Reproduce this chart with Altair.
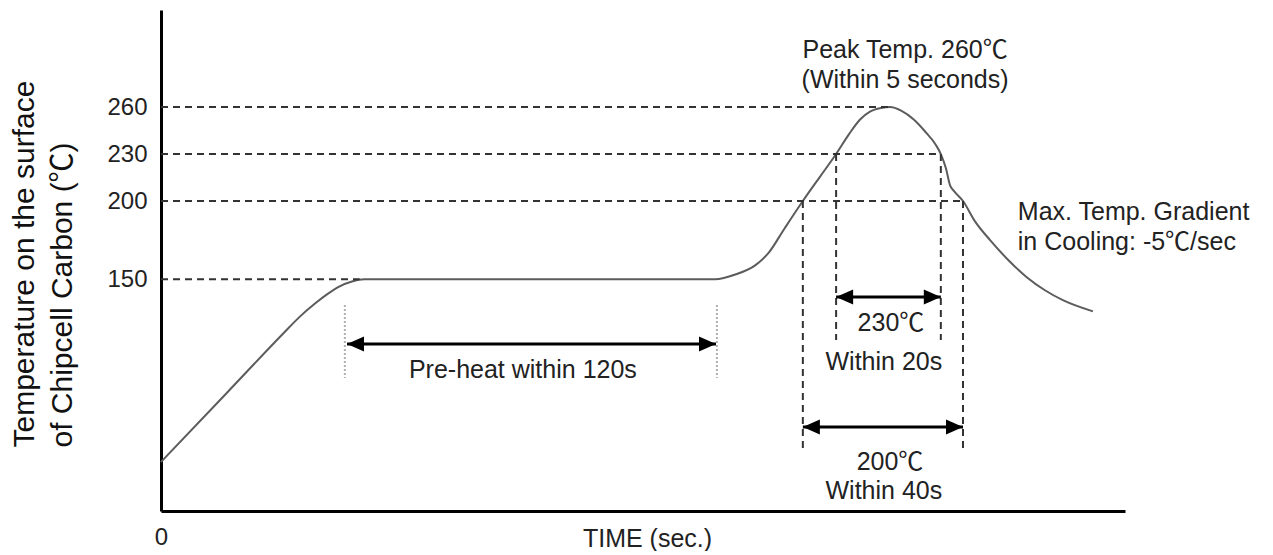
import altair as alt
import pandas as pd

FONT = "Liberation Sans, Arial, Noto Sans CJK JP, sans-serif"

# ---- reflow profile curve (time in s, temperature in deg C) ----
curve_time = [0, 21.5, 40, 45, 50, 54, 58, 62, 66, 179.9, 186.7, 192.9, 197.4,
              202.3, 208.4, 214.0, 219.2, 223.4, 226.9, 230.2, 233.8, 236.7,
              240.3, 244.5, 248.1, 251.6, 253.2, 254.9, 256.2, 257.5, 260.4,
              264.3, 269.2, 275.0, 281.0, 287.0, 293.0, 302.6]
curve_temp = [33.3, 77.7, 116, 126, 134.5, 140.5, 145.5, 148.6, 150, 150, 153.2, 158.9, 167.2,
              182, 200, 215.6, 230, 242.7, 251.9, 257.1, 259.4, 260,
              257.7, 251.9, 244.4, 235.8, 230, 220.6, 210, 206.3, 200,
              187, 175, 162.5, 151.5, 143, 136.5, 129.5]

# ---- axis ticks ----
y_ticks = [150, 200, 230, 260]
x_ticks = [0]

# ---- horizontal dashed guides (temp level, end time where they meet the curve) ----
hguide_temp = [260, 230, 200, 150]
hguide_end = [236.7, 253.2, 260.4, 64.5]

# ---- vertical dashed guides ----
vguide_time = [219.2, 253.2, 208.4, 260.4]
vguide_top = [230, 230, 200, 200]
vguide_bottom = [111.2, 111.2, 39, 39]

# ---- double arrows ----
arrow_temp = [138.7, 55.7, 108.7]
arrow_start = [219.2, 208.4, 60.4]
arrow_end = [253.2, 260.4, 180.2]

# ---- grey dotted pre-heat markers ----
preheat_time = [59.7, 180.5]
preheat_top = [133.6, 133.6]
preheat_bottom = [87, 87]

# ---- annotations ----
ann_text = ["Peak Temp. 260℃", "(Within 5 seconds)", "230℃", "Within 20s",
            "200℃", "Within 40s", "Pre-heat within 120s"]
ann_time = [241.6, 241.6, 237.0, 234.7, 236.7, 234.7, 117.5]
ann_temp = [296.5, 277.3, 122.1, 97.2, 33.3, 14.8, 92.1]

note_text = ["Max. Temp. Gradient", "in Cooling: -5℃/sec"]
note_time = [278.2, 278.2]
note_temp = [193, 173.8]

curve_df = pd.DataFrame({"time": curve_time, "temp": curve_temp})
hg_df = pd.DataFrame({"temp": hguide_temp, "t0": [0] * len(hguide_temp), "t1": hguide_end})
vg_df = pd.DataFrame({"time": vguide_time, "top": vguide_top, "bottom": vguide_bottom})
ar_df = pd.DataFrame({"temp": arrow_temp, "t0": arrow_start, "t1": arrow_end})
ph_df = pd.DataFrame({"time": preheat_time, "top": preheat_top, "bottom": preheat_bottom})
ann_df = pd.DataFrame({"label": ann_text, "time": ann_time, "temp": ann_temp})
note_df = pd.DataFrame({"label": note_text, "time": note_time, "temp": note_temp})

XS = alt.Scale(domain=[0, 313], nice=False, zero=False)
YS = alt.Scale(domain=[2, 322], nice=False, zero=False)

x_axis = alt.Axis(values=x_ticks, title="TIME (sec.)", grid=False, tickSize=0,
                  domainColor="#000", domainWidth=3, labelFontSize=24,
                  labelColor="#222", labelFont=FONT, labelPadding=14, labelFlush=False,
                  titleFont=FONT, titleFontSize=25, titleFontWeight="normal",
                  titleColor="#222", titleX=486, titleY=27, titleBaseline="middle",
                  titleAlign="center")
y_axis = alt.Axis(values=y_ticks, title=["Temperature on the surface", "of Chipcell Carbon (℃)"],
                  grid=False, tickSize=0, domainColor="#000", domainWidth=3,
                  labelFontSize=24, labelColor="#222", labelFont=FONT, labelPadding=14,
                  labelFlush=False, titleFont=FONT, titleFontSize=30,
                  titleFontWeight="normal", titleColor="#111", titleAngle=270,
                  titleAlign="left", titleBaseline="alphabetic", titleX=-128,
                  titleY=437, titleLineHeight=38)


def X(field):
    return alt.X(field, scale=XS, axis=x_axis)


def Y(field):
    return alt.Y(field, scale=YS, axis=y_axis)


curve = alt.Chart(curve_df).mark_line(color="#5c5c5c", strokeWidth=2, interpolate="monotone").encode(
    x=X("time:Q"), y=Y("temp:Q"),
)

hguides = alt.Chart(hg_df).mark_rule(color="#333", strokeWidth=2, strokeDash=[7, 5]).encode(
    x=X("t0:Q"), x2="t1:Q", y=Y("temp:Q"),
)

vguides = alt.Chart(vg_df).mark_rule(color="#333", strokeWidth=2, strokeDash=[7, 5]).encode(
    x=X("time:Q"), y=Y("top:Q"), y2="bottom:Q",
)

preheat = alt.Chart(ph_df).mark_rule(color="#b0b0b0", strokeWidth=2, strokeDash=[2, 2]).encode(
    x=X("time:Q"), y=Y("top:Q"), y2="bottom:Q",
)

arrow_lines = alt.Chart(ar_df).mark_rule(color="#000", strokeWidth=3).encode(
    x=X("t0:Q"), x2="t1:Q", y=Y("temp:Q"),
)
head_left = alt.Chart(ar_df).mark_point(shape="M0,0L2,-0.88L2,0.88Z", filled=True,
                                        size=289, color="#000", opacity=1).encode(
    x=X("t0:Q"), y=Y("temp:Q"),
)
head_right = alt.Chart(ar_df).mark_point(shape="M0,0L-2,-0.88L-2,0.88Z", filled=True,
                                         size=289, color="#000", opacity=1).encode(
    x=X("t1:Q"), y=Y("temp:Q"),
)

ann = alt.Chart(ann_df).mark_text(font=FONT, fontSize=25, color="#222", align="center",
                                  baseline="middle").encode(
    x=X("time:Q"), y=Y("temp:Q"), text="label:N",
)
notes = alt.Chart(note_df).mark_text(font=FONT, fontSize=25, color="#222", align="left",
                                     baseline="middle").encode(
    x=X("time:Q"), y=Y("temp:Q"), text="label:N",
)

chart = alt.layer(
    curve, hguides, vguides, preheat, arrow_lines, head_left, head_right, ann, notes
).properties(
    width=964, height=501,
    autosize=alt.AutoSizeParams(type="none"),
    padding={"left": 153, "top": 2, "right": 140, "bottom": 40},
).configure_view(stroke="transparent")

chart.save("out.html", embed_options={"renderer": "svg", "actions": False})
